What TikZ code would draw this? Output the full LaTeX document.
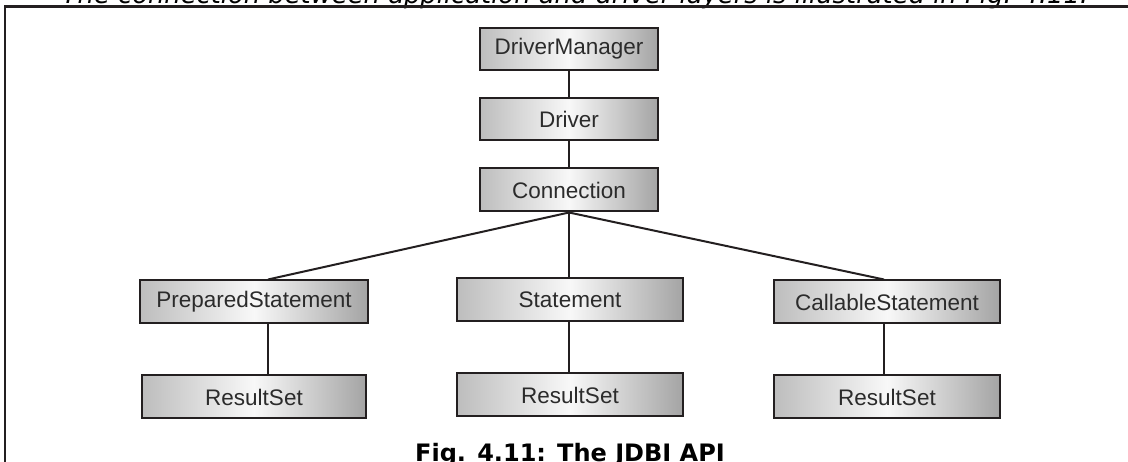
\documentclass[tikz,border=0pt]{standalone}
\usepackage{fontspec}
\setmainfont{Liberation Sans}
\newfontfamily\capfont{DejaVu Sans}
\begin{document}
\begin{tikzpicture}[x=1pt,y=-1pt,
  apibox/.style={draw=linecol, line width=2pt, rectangle,
    left color=boxedge, right color=boxedgeR, middle color=boxmid,
    minimum height=43pt, inner sep=0pt,
    font=\fontsize{22.5}{25}\selectfont, text=txtcol},
  link/.style={draw=linecol, line width=2pt}]
\definecolor{linecol}{HTML}{231F20}
\definecolor{boxedge}{HTML}{BDBDBD}
\definecolor{boxedgeR}{HTML}{A4A4A4}
\definecolor{boxmid}{HTML}{F8F8F8}
\definecolor{txtcol}{HTML}{2B2B2B}
\useasboundingbox (0,0) rectangle (1128,462);
\clip (0,0) rectangle (1128,462);
\fill[white] (0,0) rectangle (1128,462);

% running text above the frame
\node[anchor=base, font=\capfont\itshape\fontsize{25.8}{30}\selectfont, inner sep=0pt]
  (intro) at (575,3.5) {The connection between application and driver layers is illustrated in Fig. 4.11.};

% frame
\draw[line width=2.5pt, linecol] (1128,6.5) -- (5,6.5) -- (5,470);

% boxes
\node[apibox, minimum width=178pt, minimum height=42pt] (dm)  at (569,49)  {DriverManager};
\node[apibox, minimum width=178pt, minimum height=42pt] (drv) at (569,119) {Driver};
\node[apibox, minimum width=178pt] (con) at (569,190) {Connection};
\node[apibox, minimum width=228pt] (ps)  at (254,302) {PreparedStatement};
\node[apibox, minimum width=226pt] (st)  at (570,300) {Statement};
\node[apibox, minimum width=226pt] (cs)  at (887,302) {CallableStatement};
\node[apibox, minimum width=224pt] (rs1) at (254,397) {ResultSet};
\node[apibox, minimum width=226pt] (rs2) at (570,395) {ResultSet};
\node[apibox, minimum width=226pt] (rs3) at (887,397) {ResultSet};

% connectors
\draw[link] (dm.south) -- (drv.north);
\draw[link] (drv.south) -- (con.north);
\draw[link] (con.south) -- ([xshift=14pt]ps.north);
\draw[link] (con.south) -- ([xshift=-1pt]st.north);
\draw[link] (con.south) -- ([xshift=-3pt]cs.north);
\draw[link] ([xshift=14pt]ps.south) -- ([xshift=14pt]rs1.north);
\draw[link] ([xshift=-1pt]st.south) -- ([xshift=-1pt]rs2.north);
\draw[link] ([xshift=-3pt]cs.south) -- ([xshift=-3pt]rs3.north);

% caption
\node[anchor=base, font=\capfont\bfseries\fontsize{24}{28}\selectfont, inner sep=0pt]
  (cap) at (570,461.5) {Fig. 4.11: The JDBI API};
\end{tikzpicture}
\end{document}
